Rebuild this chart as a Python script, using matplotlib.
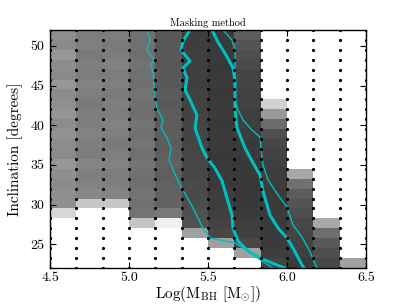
import numpy as np
import matplotlib
matplotlib.use("Agg")
import matplotlib.pyplot as plt

plt.rcParams['font.family'] = 'serif'
plt.rcParams['font.serif'] = ['cmr10', 'DejaVu Serif']
plt.rcParams['mathtext.fontset'] = 'cm'
plt.rcParams['axes.formatter.use_mathtext'] = True

# grid node positions
logm_edges = [4.5, 4.6667, 4.8333, 5.0, 5.1667, 5.3333, 5.5, 5.6667, 5.8333, 6.0, 6.1667, 6.3333, 6.5]
incl_edges = [22.0, 23.25, 24.5, 25.75, 27.0, 28.25, 29.5, 30.75, 32.0, 33.25, 34.5, 35.75, 37.0,
              38.25, 39.5, 40.75, 42.0, 43.25, 44.5, 45.75, 47.0, 48.25, 49.5, 50.75, 52.0]

N = np.nan
# cell values (rows bottom->top, columns left->right); NaN = masked
cells = [
    [N, N, N, N, N, N, N, N, 0.74, 0.77, 0.72, 0.37],
    [N, N, N, N, N, N, N, 0.37, 0.76, 0.75, 0.69, N],
    [N, N, N, N, N, N, 0.37, 0.72, 0.77, 0.74, 0.65, N],
    [N, N, N, N, N, 0.37, 0.72, 0.75, 0.77, 0.73, 0.57, N],
    [N, N, N, 0.23, 0.06, 0.68, 0.74, 0.76, 0.77, 0.72, 0.34, N],
    [0.16, N, N, 0.55, 0.53, 0.69, 0.75, 0.77, 0.77, 0.69, N, N],
    [0.44, 0.22, 0.22, 0.56, 0.61, 0.70, 0.76, 0.78, 0.77, 0.67, N, N],
    [0.44, 0.47, 0.48, 0.55, 0.62, 0.71, 0.76, 0.78, 0.77, 0.64, N, N],
    [0.45, 0.49, 0.50, 0.57, 0.62, 0.71, 0.77, 0.78, 0.76, 0.56, N, N],
    [0.44, 0.50, 0.51, 0.56, 0.63, 0.72, 0.77, 0.78, 0.76, 0.34, N, N],
    [0.41, 0.48, 0.49, 0.55, 0.62, 0.72, 0.77, 0.78, 0.75, N, N, N],
    [0.46, 0.51, 0.50, 0.56, 0.63, 0.72, 0.78, 0.77, 0.74, N, N, N],
    [0.45, 0.50, 0.52, 0.54, 0.64, 0.73, 0.77, 0.77, 0.72, N, N, N],
    [0.43, 0.49, 0.50, 0.56, 0.63, 0.73, 0.77, 0.76, 0.69, N, N, N],
    [0.45, 0.51, 0.49, 0.55, 0.64, 0.73, 0.78, 0.75, 0.58, N, N, N],
    [0.42, 0.50, 0.51, 0.57, 0.64, 0.74, 0.77, 0.75, 0.40, N, N, N],
    [0.44, 0.52, 0.50, 0.56, 0.65, 0.74, 0.77, 0.74, 0.18, N, N, N],
    [0.45, 0.50, 0.52, 0.55, 0.64, 0.74, 0.78, 0.74, N, N, N, N],
    [0.41, 0.49, 0.50, 0.57, 0.65, 0.75, 0.77, 0.73, N, N, N, N],
    [0.46, 0.51, 0.51, 0.56, 0.65, 0.75, 0.77, 0.73, N, N, N, N],
    [0.45, 0.50, 0.49, 0.55, 0.66, 0.75, 0.78, 0.71, N, N, N, N],
    [0.41, 0.52, 0.51, 0.57, 0.65, 0.75, 0.77, 0.69, N, N, N, N],
    [0.46, 0.50, 0.52, 0.56, 0.66, 0.76, 0.77, 0.67, N, N, N, N],
    [0.44, 0.51, 0.51, 0.56, 0.65, 0.76, 0.77, 0.63, N, N, N, N],
]

# contour lines (thin / thick)
thin1_x = [5.114, 5.133, 5.114, 5.158, 5.139, 5.152, 5.165, 5.177, 5.215, 5.203, 5.241, 5.266,
           5.253, 5.310, 5.405, 5.468, 5.513, 5.671, 5.753, 5.842, 5.911]
thin1_y = [52.0, 50.74, 49.48, 48.22, 47.59, 46.58, 43.55, 42.17, 40.65, 39.65, 38.39, 37.13,
           35.61, 32.97, 29.56, 27.04, 25.78, 25.15, 24.14, 22.88, 22.0]
thick1_x = [5.386, 5.342, 5.329, 5.386, 5.342, 5.367, 5.354, 5.386, 5.430, 5.418, 5.462, 5.494,
            5.544, 5.589, 5.620, 5.652, 5.658, 5.690, 5.753, 5.829, 5.968, 5.99]
thick1_y = [52.0, 50.61, 49.48, 48.09, 47.21, 45.95, 44.44, 43.18, 41.29, 39.65, 37.13, 35.86,
            34.60, 32.97, 30.82, 28.68, 27.04, 25.40, 24.14, 23.26, 22.13, 22.0]
thick2_x = [5.525, 5.563, 5.614, 5.658, 5.671, 5.671, 5.684, 5.734, 5.778, 5.829, 5.848, 5.892,
            5.943, 6.000, 6.038, 6.095, 6.108]
thick2_y = [52.0, 50.49, 48.85, 47.21, 45.70, 41.92, 39.65, 37.13, 35.49, 33.72, 31.71, 28.68,
            27.04, 25.78, 24.52, 22.38, 22.0]
thin2_x = [5.595, 5.652, 5.671, 5.671, 5.690, 5.722, 5.778, 5.829, 5.835, 5.848, 5.880, 5.943,
           6.000, 6.038, 6.095, 6.146, 6.190]
thin2_y = [52.0, 50.74, 49.48, 43.18, 41.92, 40.65, 39.39, 38.51, 37.13, 34.98, 33.09, 31.20,
           29.69, 27.42, 25.91, 24.02, 22.0]

xticks = [4.5, 5.0, 5.5, 6.0, 6.5]
yticks = [25, 30, 35, 40, 45, 50]

fig = plt.figure(figsize=(4.07, 3.05), dpi=100)
ax = fig.add_axes([50/407, 1-268/305, 316/407, 238/305])

Z = np.ma.masked_invalid(np.array(cells))
ax.pcolormesh(logm_edges, incl_edges, Z, cmap='gray_r', vmin=0, vmax=1, shading='flat', zorder=1)

ax.plot(thin1_x, thin1_y, color='c', lw=1.0, zorder=3)
ax.plot(thick1_x, thick1_y, color='c', lw=2.2, zorder=3, solid_joinstyle='round')
ax.plot(thick2_x, thick2_y, color='c', lw=2.2, zorder=3, solid_joinstyle='round')
ax.plot(thin2_x, thin2_y, color='c', lw=1.0, zorder=3)

GX, GY = np.meshgrid(logm_edges, incl_edges)
ax.plot(GX.ravel(), GY.ravel(), 'o', color='k', ms=2.3, mec='none', zorder=4)

ax.set_xlim(4.5, 6.5)
ax.set_ylim(22, 52)
ax.set_xticks(xticks)
ax.set_yticks(yticks)
ax.set_xticklabels(['%.1f' % v for v in xticks])
ax.set_yticklabels(['%d' % v for v in yticks])
ax.tick_params(direction='in', top=True, right=True, length=4, width=0.8, labelsize=10)
ax.tick_params(axis='x', pad=3)
ax.tick_params(axis='y', pad=4)
for s in ax.spines.values():
    s.set_linewidth(1.0)
    s.set_zorder(5)

ax.set_title('Masking method', fontsize=7.5, pad=3)
ax.set_xlabel(r'Log(M$_{\mathrm{BH}}$ [M$_{\odot}$])', fontsize=11, labelpad=0)
ax.set_ylabel('Inclination [degrees]', fontsize=11, labelpad=5)

fig.savefig('out.png', dpi=100)
